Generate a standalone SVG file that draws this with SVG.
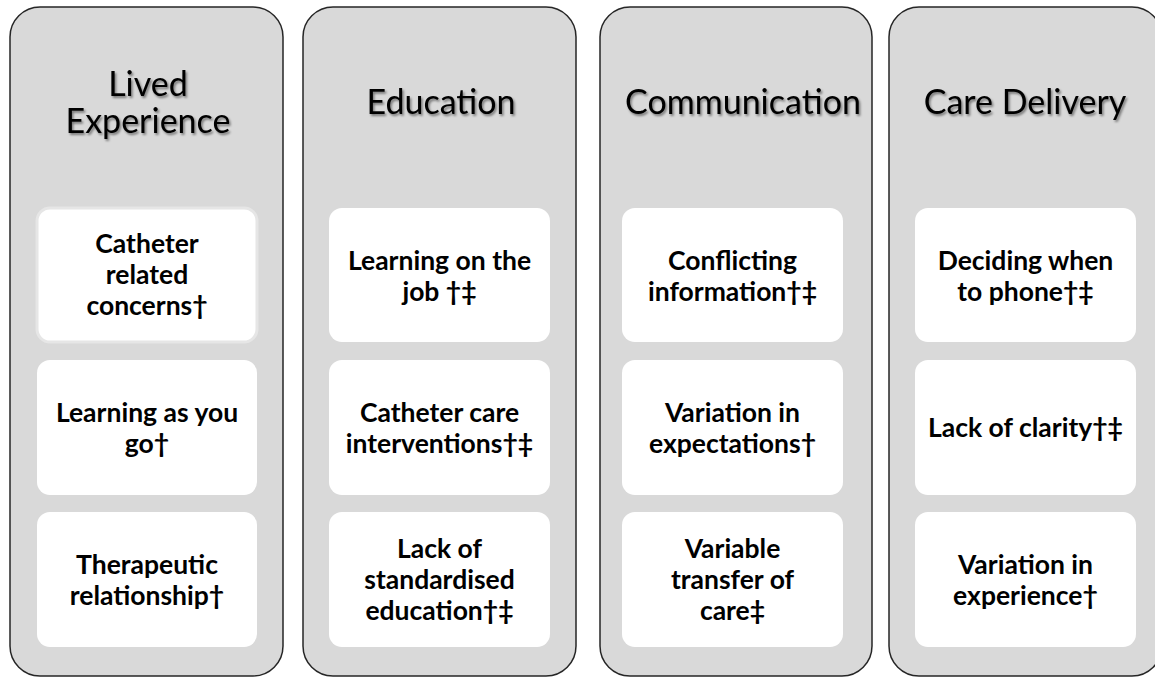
<svg xmlns="http://www.w3.org/2000/svg" width="1155" height="677" viewBox="0 0 1155 677">
<defs>
<filter id="tshadow" x="-10%" y="-20%" width="130%" height="150%">
<feDropShadow dx="1.5" dy="2" stdDeviation="1.2" flood-color="#000" flood-opacity="0.45"/>
</filter>
</defs>
<style>
.col{fill:#d9d9d9;stroke:#262626;stroke-width:1.5}
.card{fill:#ffffff}
.sel{stroke:#e6e6e6;stroke-width:3}
.title{font-family:Lato,"Liberation Sans",sans-serif;font-size:34px;fill:#000;text-anchor:middle;filter:url(#tshadow)}
.lbl{font-family:Lato,"Liberation Sans",sans-serif;font-size:26.5px;font-weight:bold;fill:#000;text-anchor:middle}
</style>
<rect width="1155" height="677" fill="#ffffff"/>
<g id="col-lived">
<rect class="col" x="10" y="7" width="273" height="669" rx="30"/>
<text class="title" x="148" y="96">Lived</text>
<text class="title" x="148" y="133">Experience</text>
</g>
<g id="col-education">
<rect class="col" x="303" y="7" width="273" height="669" rx="30"/>
<text class="title" x="441" y="114">Education</text>
</g>
<g id="col-communication">
<rect class="col" x="600" y="7" width="272" height="669" rx="30"/>
<text class="title" x="743" y="114">Communication</text>
</g>
<g id="col-care">
<rect class="col" x="889" y="7" width="273" height="669" rx="30"/>
<text class="title" x="1025" y="114">Care Delivery</text>
</g>

<g id="card-catheter-concerns">
<rect class="card sel" x="37" y="208" width="220" height="134" rx="13"/>
<text class="lbl" x="147" y="253">Catheter</text>
<text class="lbl" x="147" y="284">related</text>
<text class="lbl" x="147" y="315">concerns†</text>
</g>
<g id="card-learning-as-you-go">
<rect class="card" x="37" y="360" width="220" height="135" rx="13"/>
<text class="lbl" x="147" y="422">Learning as you</text>
<text class="lbl" x="147" y="453">go†</text>
</g>
<g id="card-therapeutic">
<rect class="card" x="37" y="512" width="220" height="135" rx="13"/>
<text class="lbl" x="147" y="574">Therapeutic</text>
<text class="lbl" x="147" y="605">relationship†</text>
</g>

<g id="card-learning-on-job">
<rect class="card" x="329" y="208" width="221" height="134" rx="13"/>
<text class="lbl" x="439.5" y="270">Learning on the</text>
<text class="lbl" x="439.5" y="301">job †‡</text>
</g>
<g id="card-catheter-care">
<rect class="card" x="329" y="360" width="221" height="135" rx="13"/>
<text class="lbl" x="439.5" y="422">Catheter care</text>
<text class="lbl" x="439.5" y="453">interventions†‡</text>
</g>
<g id="card-lack-standardised">
<rect class="card" x="329" y="512" width="221" height="135" rx="13"/>
<text class="lbl" x="439.5" y="558">Lack of</text>
<text class="lbl" x="439.5" y="589">standardised</text>
<text class="lbl" x="439.5" y="620">education†‡</text>
</g>

<g id="card-conflicting">
<rect class="card" x="622" y="208" width="221" height="134" rx="13"/>
<text class="lbl" x="732.5" y="270">Conflicting</text>
<text class="lbl" x="732.5" y="301">information†‡</text>
</g>
<g id="card-variation-expectations">
<rect class="card" x="622" y="360" width="221" height="135" rx="13"/>
<text class="lbl" x="732.5" y="422">Variation in</text>
<text class="lbl" x="732.5" y="453">expectations†</text>
</g>
<g id="card-variable-transfer">
<rect class="card" x="622" y="512" width="221" height="135" rx="13"/>
<text class="lbl" x="732.5" y="558">Variable</text>
<text class="lbl" x="732.5" y="589">transfer of</text>
<text class="lbl" x="732.5" y="620">care‡</text>
</g>

<g id="card-deciding">
<rect class="card" x="915" y="208" width="221" height="134" rx="13"/>
<text class="lbl" x="1025.5" y="270">Deciding when</text>
<text class="lbl" x="1025.5" y="301">to phone†‡</text>
</g>
<g id="card-lack-clarity">
<rect class="card" x="915" y="360" width="221" height="135" rx="13"/>
<text class="lbl" x="1025.5" y="437">Lack of clarity†‡</text>
</g>
<g id="card-variation-experience">
<rect class="card" x="915" y="512" width="221" height="135" rx="13"/>
<text class="lbl" x="1025.5" y="574">Variation in</text>
<text class="lbl" x="1025.5" y="605">experience†</text>
</g>
<g id="connectors"></g>
</svg>
